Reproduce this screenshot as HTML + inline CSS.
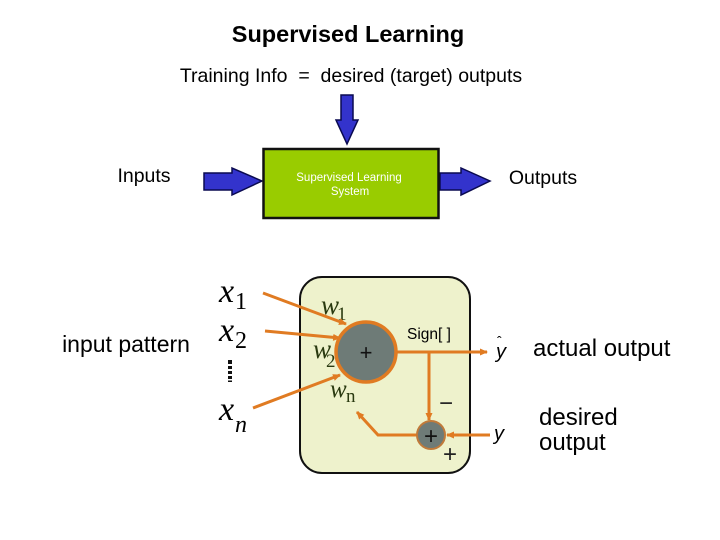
<!DOCTYPE html>
<html><head><meta charset="utf-8"><style>
html,body{margin:0;padding:0;background:#fff;}
svg{display:block;}
</style></head><body>
<svg width="720" height="540" viewBox="0 0 720 540" xmlns="http://www.w3.org/2000/svg" font-family="Liberation Sans, sans-serif">
<defs>
<marker id="ah" markerWidth="8" markerHeight="8" refX="7" refY="4" orient="auto" markerUnits="userSpaceOnUse">
<path d="M0,0.5 L8,4 L0,7.5 Z" fill="#e07b22"/></marker>
</defs>
<text x="348" y="42" font-size="23.5" font-weight="bold" text-anchor="middle">Supervised Learning</text>
<text x="351" y="82" font-size="19.5" text-anchor="middle" xml:space="preserve" style="white-space:pre">Training Info  =  desired (target) outputs</text>
<path d="M341,95 L353,95 L353,120 L358,120 L347,144 L336,120 L341,120 Z" fill="#3333cc" stroke="#0a0a50" stroke-width="1.5"/>
<path d="M204,173 L232,173 L232,168 L262,181 L232,195 L232,190 L204,190 Z" fill="#3333cc" stroke="#0a0a50" stroke-width="1.5"/>
<path d="M440,173 L461,173 L461,168 L490,181 L461,195 L461,190 L440,190 Z" fill="#3333cc" stroke="#0a0a50" stroke-width="1.5"/>
<rect x="263.5" y="149" width="175" height="69" fill="#99cc00" stroke="#111" stroke-width="2.5"/>
<text x="349" y="181" font-size="11.5" fill="#fff" text-anchor="middle">Supervised Learning</text>
<text x="350" y="195" font-size="11.5" fill="#fff" text-anchor="middle">System</text>
<text x="144" y="182" font-size="19.5" text-anchor="middle">Inputs</text>
<text x="543" y="184" font-size="19.5" text-anchor="middle">Outputs</text>
<rect x="300" y="277" width="170" height="196" rx="22" fill="#eef2cc" stroke="#111" stroke-width="2"/>
<text x="126" y="352" font-size="23" text-anchor="middle">input pattern</text>
<g style="font-family:'Liberation Serif',serif">
<text x="219" y="302" style="font-style:italic;font-family:'Liberation Serif',serif" font-size="34">x</text>
<text x="235" y="309" style="font-family:'Liberation Serif',serif" font-size="24">1</text>
<text x="219" y="341" style="font-style:italic;font-family:'Liberation Serif',serif" font-size="34">x</text>
<text x="235" y="348" style="font-family:'Liberation Serif',serif" font-size="24">2</text>
<text x="219" y="420" style="font-style:italic;font-family:'Liberation Serif',serif" font-size="34">x</text>
<text x="235" y="432" style="font-style:italic;font-family:'Liberation Serif',serif" font-size="24">n</text>
<text x="321" y="314" style="font-style:italic;font-family:'Liberation Serif',serif" font-size="27" fill="#2a3a10">w</text>
<text x="337" y="320" style="font-family:'Liberation Serif',serif" font-size="19" fill="#2a3a10">1</text>
<text x="313" y="358" style="font-style:italic;font-family:'Liberation Serif',serif" font-size="27" fill="#2a3a10">w</text>
<text x="326" y="367" style="font-family:'Liberation Serif',serif" font-size="19" fill="#2a3a10">2</text>
<text x="330" y="397" style="font-style:italic;font-family:'Liberation Serif',serif" font-size="25" fill="#2a3a10">w</text>
<text x="346" y="402" style="font-family:'Liberation Serif',serif" font-size="19" fill="#2a3a10">n</text>
</g>
<rect x="228" y="360" width="4" height="22" fill="#111"/>
<rect x="228" y="364" width="4" height="2" fill="#fff"/><rect x="228" y="369" width="4" height="2" fill="#fff"/><rect x="228" y="374" width="4" height="2" fill="#fff"/><rect x="228" y="379" width="4" height="1.5" fill="#fff"/>
<line x1="263" y1="293" x2="346" y2="324" stroke="#e07b22" stroke-width="3" marker-end="url(#ah)"/>
<line x1="265" y1="331" x2="340" y2="338" stroke="#e07b22" stroke-width="3" marker-end="url(#ah)"/>
<line x1="253" y1="408" x2="340" y2="375" stroke="#e07b22" stroke-width="3" marker-end="url(#ah)"/>
<line x1="397" y1="352" x2="487" y2="352" stroke="#e07b22" stroke-width="3" marker-end="url(#ah)"/>
<line x1="429" y1="352" x2="429" y2="420" stroke="#e07b22" stroke-width="3" marker-end="url(#ah)"/>
<circle cx="366" cy="352" r="30" fill="#6e7b77" stroke="#e07b22" stroke-width="3.5"/>
<text x="366" y="360" font-size="22" text-anchor="middle" fill="#111">+</text>
<text x="407" y="339" font-size="15.5">Sign[ ]</text>
<polyline points="418,435 378,435 357,412" fill="none" stroke="#e07b22" stroke-width="3" marker-end="url(#ah)"/>
<line x1="490" y1="435" x2="447" y2="435" stroke="#e07b22" stroke-width="3" marker-end="url(#ah)"/>
<circle cx="431" cy="435" r="14" fill="#6e7b77" stroke="#c07a3a" stroke-width="2"/>
<text x="431" y="444" font-size="24" text-anchor="middle" fill="#111">+</text>
<text x="450" y="462" font-size="24" text-anchor="middle" fill="#222">+</text>
<text x="446" y="411" font-size="24" text-anchor="middle" fill="#222">−</text>
<text x="496" y="358" font-style="italic" font-size="20">y</text><text x="497" y="346" font-size="14">ˆ</text>
<text x="494" y="440" font-style="italic" font-size="20">y</text>
<text x="533" y="356" font-size="24">actual output</text>
<text x="539" y="425" font-size="24">desired</text>
<text x="539" y="450" font-size="24">output</text>
</svg>
</body></html>
